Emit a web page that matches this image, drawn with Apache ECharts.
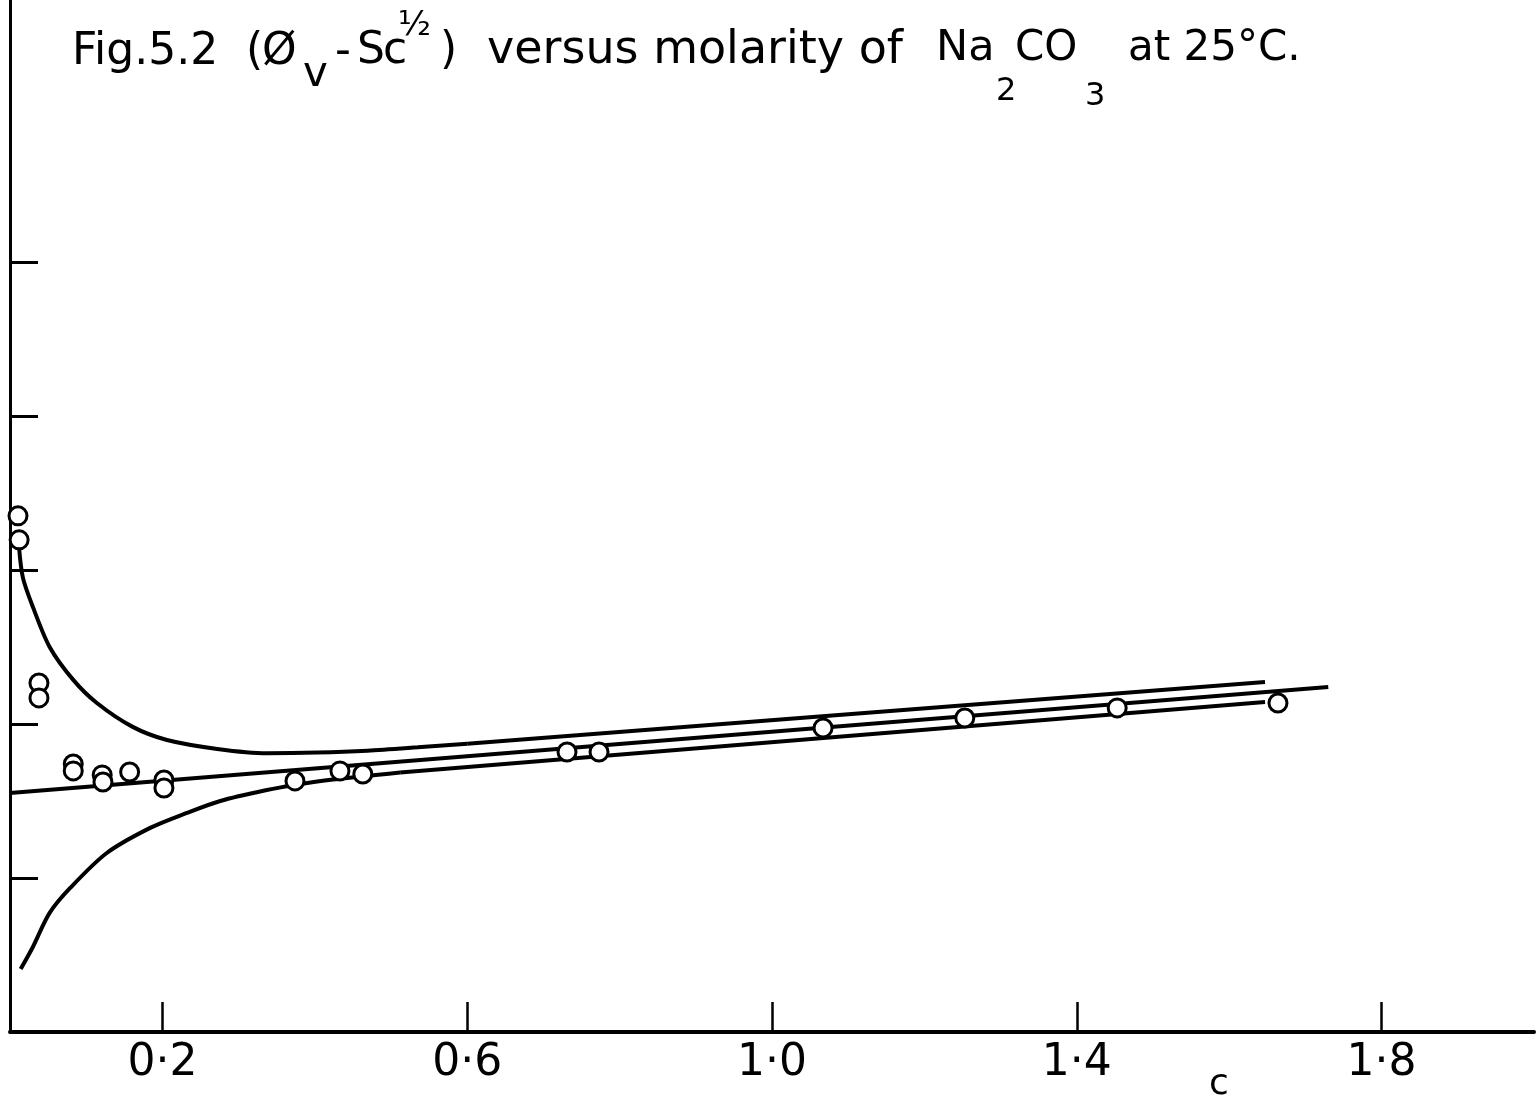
<!DOCTYPE html>
<html>
<head>
<meta charset="utf-8">
<title>Fig.5.2</title>
<script src="https://cdn.jsdelivr.net/npm/echarts@6/dist/echarts.min.js"></script>
<style>
  html, body { margin: 0; padding: 0; background: #fff; }
  #chart { width: 1537px; height: 1103px; }
</style>
</head>
<body>
<div id="chart"></div>
<script>
// measured points: c (mol/l) vs (phi_v - S c^1/2), y in plot units (y axis has no labels)
var pointC = [0.0105, 0.012, 0.038, 0.038, 0.083, 0.083, 0.121, 0.122, 0.157, 0.202, 0.202,
              0.374, 0.433, 0.463, 0.731, 0.773, 1.067, 1.253, 1.453, 1.664];
var pointY = [3.351, 3.195, 2.266, 2.169, 1.740, 1.695, 1.669, 1.623, 1.688, 1.636, 1.584,
              1.630, 1.695, 1.675, 1.818, 1.818, 1.974, 2.039, 2.104, 2.136];

// upper curve: bent part, then straight part
var upperBendC = [0.0118, 0.017, 0.030, 0.052, 0.083, 0.114, 0.161, 0.206, 0.272, 0.337, 0.403, 0.469, 0.535, 0.600];
var upperBendY = [3.150, 2.948, 2.760, 2.500, 2.286, 2.136, 1.981, 1.896, 1.838, 1.810, 1.814, 1.826, 1.848, 1.872];
var upperLineC = [0.600, 1.647];
var upperLineY = [1.872, 2.273];

// middle straight line
var middleC = [0, 1.730];
var middleY = [1.552, 2.240];

// lower curve: bent part, then straight part
var lowerBendC = [0.014, 0.030, 0.052, 0.079, 0.127, 0.184, 0.232, 0.276, 0.337, 0.374, 0.424, 0.512];
var lowerBendY = [0.409, 0.552, 0.773, 0.935, 1.162, 1.325, 1.422, 1.500, 1.571, 1.604, 1.639, 1.685];
var lowerLineC = [0.512, 1.647];
var lowerLineY = [1.685, 2.143];

var xTickValues = [0.2, 0.6, 1.0, 1.4, 1.8];
var xTickLabels = ['0·2', '0·6', '1·0', '1·4', '1·8'];
var yTickValues = [1, 2, 3, 4, 5];

// title written in pieces so the sub/superscripts sit like the lettering
var titlePieces = [
    ['Fig.5.2', 72, 53, 44],
    ['(', 246, 53, 44],
    ['Ø', 262, 53, 44],
    ['v', 303, 75, 42],
    ['-', 335, 53, 44],
    ['S', 357, 52, 44],
    ['c', 383, 52, 44],
    ['½', 398, 26, 34],
    [')', 440, 52, 44],
    ['versus molarity of', 487, 51, 46],
    ['Na', 936, 49, 43],
    ['2', 996, 92, 32],
    ['CO', 1015, 49, 42],
    ['3', 1085, 97, 32],
    ['at 25°C.', 1128, 49, 42]
];

function pairs(xs, ys) {
    return xs.map(function (x, i) { return [x, ys[i]]; });
}

var chart = echarts.init(document.getElementById('chart'));

var lineStyle = { color: '#000', width: 4 };

function curve(name, xs, ys, smooth) {
    return {
        name: name,
        type: 'line',
        data: pairs(xs, ys),
        smooth: smooth,
        symbol: 'none',
        lineStyle: lineStyle,
        z: 2
    };
}

var graphics = titlePieces.map(function (p) {
    return {
        type: 'text',
        x: p[1],
        y: p[2],
        style: {
            text: p[0],
            fill: '#000',
            fontFamily: 'DejaVu Sans',
            fontSize: p[3],
            align: 'left',
            verticalAlign: 'middle'
        }
    };
});
graphics.push({
    type: 'text',
    x: 1209,
    y: 1085,
    style: { text: 'c', fill: '#000', fontFamily: 'DejaVu Sans', fontSize: 36, verticalAlign: 'middle' }
});

chart.setOption({
    backgroundColor: '#fff',
    animation: false,
    grid: { left: 10, right: 3, top: 0, bottom: 71 },
    xAxis: {
        type: 'value',
        min: 0,
        max: 2.0,
        axisLine: { lineStyle: { color: '#000', width: 4 } },
        axisTick: {
            inside: true,
            length: 30,
            customValues: xTickValues,
            lineStyle: { color: '#000', width: 2.5 }
        },
        axisLabel: {
            customValues: xTickValues,
            margin: 10,
            color: '#000',
            fontFamily: 'DejaVu Sans',
            fontSize: 44,
            formatter: function (v) {
                var i = xTickValues.indexOf(Math.round(v * 10) / 10);
                return i >= 0 ? xTickLabels[i] : '';
            }
        },
        splitLine: { show: false }
    },
    yAxis: {
        type: 'value',
        min: 0,
        max: 6.7,
        axisLine: { show: true, lineStyle: { color: '#000', width: 3 } },
        axisTick: {
            show: true,
            inside: true,
            length: 28,
            customValues: yTickValues,
            lineStyle: { color: '#000', width: 3 }
        },
        axisLabel: { show: false },
        splitLine: { show: false }
    },
    graphic: graphics,
    series: [
        curve('upper bend', upperBendC, upperBendY, 0.3),
        curve('upper line', upperLineC, upperLineY, false),
        curve('middle', middleC, middleY, false),
        curve('lower bend', lowerBendC, lowerBendY, 0.3),
        curve('lower line', lowerLineC, lowerLineY, false),
        {
            name: 'points',
            type: 'scatter',
            data: pairs(pointC, pointY),
            symbol: 'circle',
            symbolSize: 18,
            itemStyle: { color: '#fff', borderColor: '#000', borderWidth: 3, opacity: 1 },
            z: 5
        }
    ]
});
</script>
</body>
</html>
